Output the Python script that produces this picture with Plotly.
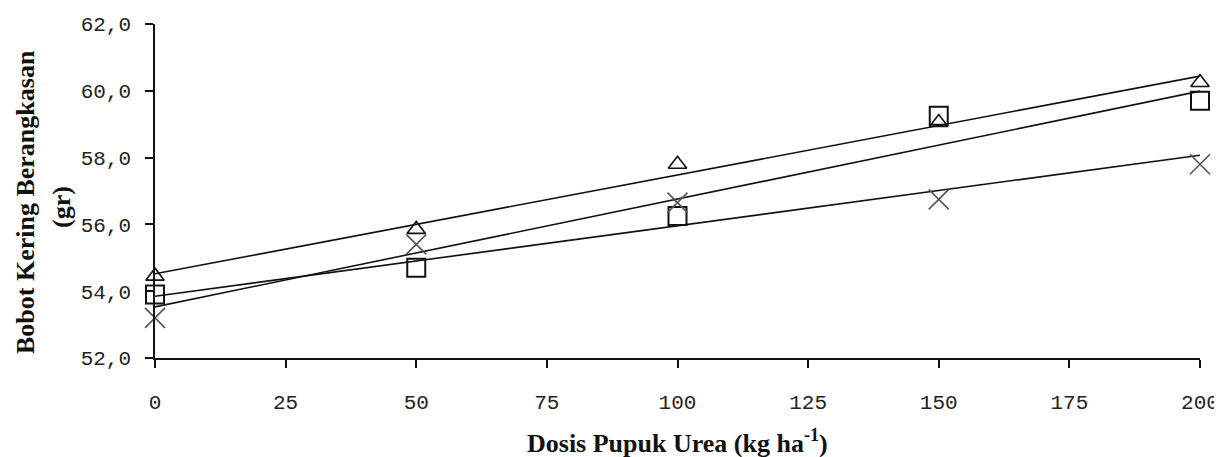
import numpy as np
import plotly.graph_objects as go

dosis = [0, 50, 100, 150, 200]
seri_segitiga = [54.45, 55.85, 57.8, 59.05, 60.25]
seri_kotak = [53.9, 54.7, 56.25, 59.25, 59.7]
seri_silang = [53.2, 55.4, 56.65, 56.75, 57.8]
x_ticks = [0, 25, 50, 75, 100, 125, 150, 175, 200]
y_ticks = [52, 54, 56, 58, 60, 62]

fig = go.Figure()

def trend(ys):
    k, b = np.polyfit(dosis, ys, 1)
    xs = [dosis[0], dosis[-1]]
    return xs, [k * v + b for v in xs]

series = [
    (seri_segitiga, dict(symbol="triangle-up-open", size=16, color="#111", line=dict(width=1.6, color="#111"))),
    (seri_kotak, dict(symbol="square-open", size=18, color="#111", line=dict(width=2, color="#111"))),
    (seri_silang, dict(symbol="x-thin-open", size=20, color="#555", line=dict(width=1.6, color="#555"))),
]

for ys, mk in series:
    tx, ty = trend(ys)
    fig.add_trace(go.Scatter(x=tx, y=ty, mode="lines", line=dict(color="#111", width=1.6),
                             showlegend=False, hoverinfo="skip", cliponaxis=False))
for ys, mk in series:
    fig.add_trace(go.Scatter(x=dosis, y=ys, mode="markers", marker=mk,
                             showlegend=False, cliponaxis=False))

tick_font = dict(family="Liberation Mono", size=21, color="#222")
fig.update_xaxes(range=[0, 200], tickvals=x_ticks, ticks="outside", ticklen=8, tickwidth=1.5,
                 tickcolor="#111", showline=True, linecolor="#111", linewidth=1.5,
                 showgrid=False, zeroline=False, tickfont=tick_font, ticklabelstandoff=16,
                 automargin=False)
fig.update_yaxes(range=[52, 62], tickvals=y_ticks, tickformat=".1f", ticks="outside", ticklen=8,
                 tickwidth=1.5, tickcolor="#111", showline=True, linecolor="#111", linewidth=1.5,
                 showgrid=False, zeroline=False, tickfont=tick_font, ticklabelstandoff=10,
                 automargin=False)

title_font = dict(family="Liberation Serif", size=26, color="#111")
fig.add_annotation(text="<b>Dosis Pupuk Urea (kg ha<sup>-1</sup>)</b>", xref="paper", yref="paper",
                   x=0.5, y=0, yshift=-83, yanchor="middle", showarrow=False, font=title_font)
fig.add_annotation(text="<b>Bobot Kering Berangkasan</b>", xref="paper", yref="paper",
                   x=0, y=0.467, xshift=-130, xanchor="center", yanchor="middle",
                   textangle=-90, showarrow=False, font=title_font)
fig.add_annotation(text="<b>(gr)</b>", xref="paper", yref="paper",
                   x=0, y=0.452, xshift=-94, xanchor="center", yanchor="middle",
                   textangle=-90, showarrow=False, font=title_font)

fig.update_layout(width=1214, height=449, margin=dict(l=147, r=22, t=16, b=99),
                  plot_bgcolor="white", paper_bgcolor="white", separators=",.")
fig.write_html("out.html")
